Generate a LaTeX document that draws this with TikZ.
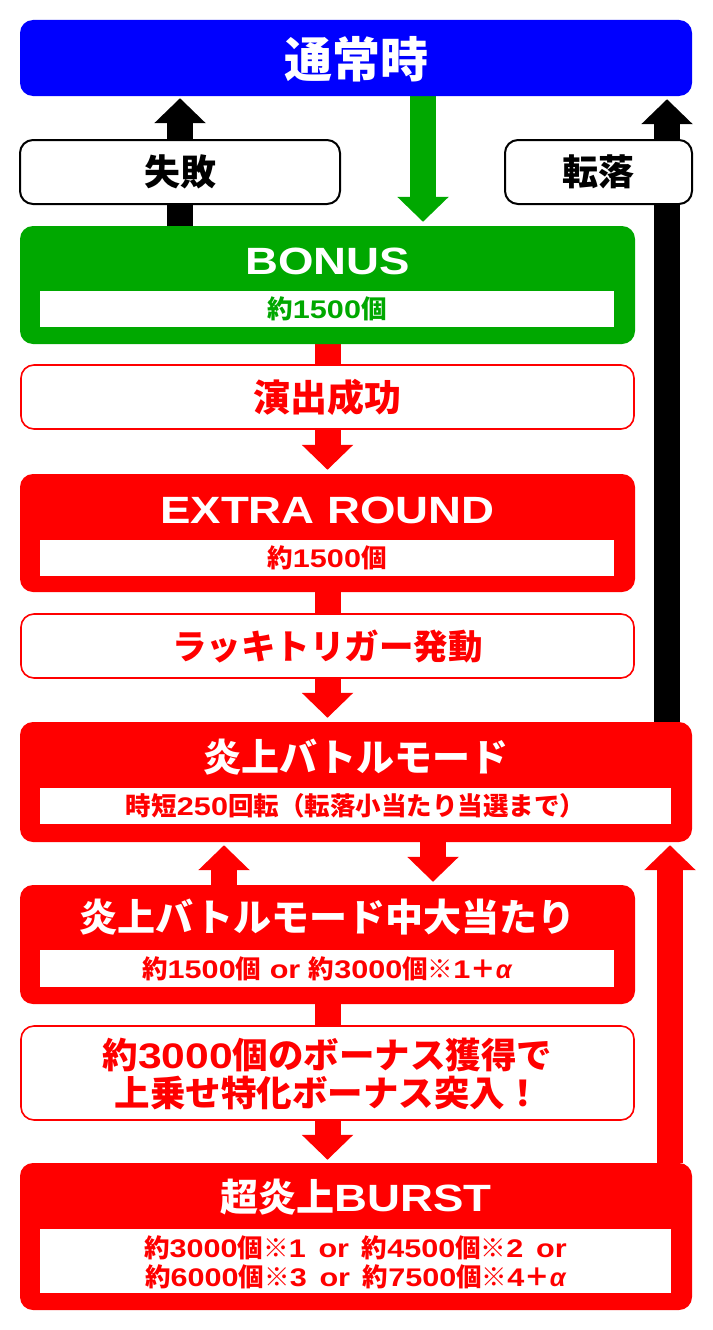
\documentclass[tikz,border=0pt]{standalone}
\usepackage{fontspec}
\usepackage{graphicx}
\setmainfont{Noto Sans CJK JP}
\newfontfamily\latfont{Liberation Sans}
\newcommand{\latx}[1]{{\latfont\bfseries\scalebox{1.2}[1]{#1}}}
\newcommand{\alp}{{\latfont\bfseries\itshape α}}
\usetikzlibrary{arrows.meta}
\definecolor{myred}{RGB}{255,0,0}
\definecolor{mygreen}{RGB}{0,168,0}
\definecolor{myblue}{RGB}{0,0,255}
\pgfdeclarelayer{bg}
\pgfsetlayers{bg,main}
\newcommand{\fs}[1]{\fontsize{#1}{#1}\selectfont}
\newcommand{\fsk}[2]{\fontsize{#1}{#2}\selectfont}
\begin{document}
\begin{tikzpicture}[x=1pt,y=-1pt,
  panel/.style={fill=#1, rounded corners=13pt, inner sep=0pt},
  strip/.style={fill=white, inner sep=0pt},
  labelbox/.style={draw=#1, fill=white, line width=1.6pt, rounded corners=13pt, inner sep=0pt},
  title/.style={text=white, inner sep=0pt, font=\bfseries\fs{38}},
  sub/.style={text=#1, inner sep=0pt, font=\bfseries\fs{25.5}},
  lab/.style={text=#1, inner sep=0pt, font=\bfseries\fs{36}, align=center},
  fat/.style={draw=#1, line width=26pt, -{Triangle[width=50pt,length=25pt]}}
]
\useasboundingbox (0,0) rectangle (712,1330);

% 通常時
\node[panel=myblue, minimum width=672pt, minimum height=76pt] (normal) at (356,58) {};
\node[title, font=\bfseries\fs{48}] (normalt) at (356,59) {通常時};

% labels between
\node[labelbox=black, line width=2pt, minimum width=320pt, minimum height=64pt] (fail) at (180,172) {};
\node[lab=black] (failt) at (180,172) {失敗};
\node[labelbox=black, line width=2pt, minimum width=187pt, minimum height=64pt] (fall) at (598.5,172) {};
\node[lab=black] (fallt) at (598.5,172) {転落};

% BONUS
\node[panel=mygreen, minimum width=615pt, minimum height=118pt] (bonus) at (327.5,285) {};
\node[title] (bonust) at (327.5,261) {\latx{BONUS}};
\node[strip, minimum width=574pt, minimum height=36pt] (bonuss) at (327,309) {};
\node[sub=mygreen] (bonussub) at (327,309) {約\latx{1500}個};

% 演出成功
\node[labelbox=myred, minimum width=613pt, minimum height=64pt] (succ) at (327.5,397) {};
\node[lab=myred, font=\bfseries\fs{37}] (succt) at (327.5,397) {演出成功};

% EXTRA ROUND
\node[panel=myred, minimum width=615pt, minimum height=118pt] (extra) at (327.5,533) {};
\node[title] (extrat) at (327.5,510) {\latx{EXTRA ROUND}};
\node[strip, minimum width=574pt, minimum height=36pt] (extras) at (327,558) {};
\node[sub=myred] (extrasub) at (327,558) {約\latx{1500}個};

% ラッキトリガー発動
\node[labelbox=myred, minimum width=613pt, minimum height=64pt] (lucky) at (327.5,646) {};
\node[lab=myred, font=\bfseries\fs{34.5}] (luckyt) at (327.5,646) {ラッキトリガー発動};

% 炎上バトルモード
\node[panel=myred, minimum width=672pt, minimum height=120pt] (enjo) at (356,782) {};
\node[title] (enjot) at (356,757) {炎上バトルモード};
\node[strip, minimum width=631pt, minimum height=36pt] (enjos) at (355.5,806) {};
\node[sub=myred] (enjosub) at (355.5,806) {時短\latx{250}回転（転落小当たり当選まで）};

% 炎上バトルモード中大当たり
\node[panel=myred, minimum width=615pt, minimum height=119pt] (chu) at (327.5,944.5) {};
\node[title] (chut) at (327.5,917) {炎上バトルモード中大当たり};
\node[strip, minimum width=574pt, minimum height=37pt] (chus) at (327,968.5) {};
\node[sub=myred] (chusub) at (327,968.5) {約\latx{1500}個\,\,\latx{or}\,\,約\latx{3000}個※\latx{1}＋\alp};

% 約3000個のボーナス獲得で
\node[labelbox=myred, minimum width=613pt, minimum height=94pt] (get) at (327.5,1073) {};
\node[lab=myred, font=\bfseries\fsk{35.5}{38}] (gett) at (327.5,1074) {約\latx{3000}個のボーナス獲得で\\上乗せ特化ボーナス突入！};

% 超炎上BURST
\node[panel=myred, minimum width=672pt, minimum height=147pt] (burst) at (356,1236.5) {};
\node[title] (burstt) at (356,1197) {超炎上\latx{BURST}};
\node[strip, minimum width=631pt, minimum height=64pt] (bursts) at (355.5,1261) {};
\node[sub=myred, align=center, font=\bfseries\fsk{25.5}{29}] (burstsub) at (355.5,1262) {約\latx{3000}個※\latx{1}\enspace\latx{or}\enspace 約\latx{4500}個※\latx{2}\enspace\latx{or}\\約\latx{6000}個※\latx{3}\enspace\latx{or}\enspace 約\latx{7500}個※\latx{4}＋\alp};

% helper x positions
\coordinate (gx) at (423,0);
\coordinate (rx) at (667,0);
\coordinate (ux) at (224,0);
\coordinate (dx) at (433,0);
\coordinate (bx) at (670,0);

\begin{pgfonlayer}{bg}
  \draw[fat=black, shorten >=2pt] (fail.center |- bonus.north) -- (fail.center |- normal.south);
  \draw[fat=mygreen, shorten >=4pt] (gx |- normal.south) -- (gx |- bonus.north);
  \draw[fat=black, shorten >=3pt] (rx |- enjo.north) -- (rx |- normal.south);
  \draw[fat=myred, shorten >=4pt] (bonus.south) -- (extra.north);
  \draw[fat=myred, shorten >=4pt] (extra.south) -- (extra.south |- enjo.north);
  \draw[fat=myred, shorten >=3pt] (ux |- chu.north) -- (ux |- enjo.south);
  \draw[fat=myred, shorten >=3pt] (dx |- enjo.south) -- (dx |- chu.north);
  \draw[fat=myred, shorten >=3pt] (chu.south) -- (chu.south |- burst.north);
  \draw[fat=myred, shorten >=3pt] (bx |- burst.north) -- (bx |- enjo.south);
\end{pgfonlayer}
\end{tikzpicture}
\end{document}
